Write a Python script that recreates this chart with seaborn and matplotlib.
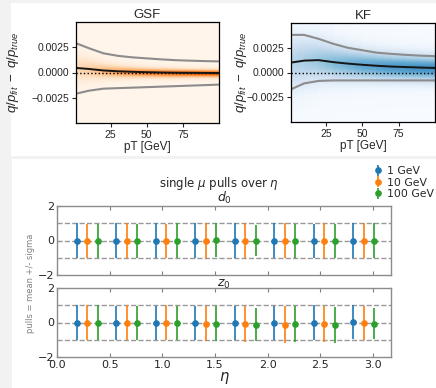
import numpy as np
import matplotlib
matplotlib.use("Agg")
import matplotlib.pyplot as plt
import seaborn as sns
from matplotlib.patches import Rectangle
from matplotlib.ticker import FuncFormatter

# residual bands at these pT values
pt = [1, 10, 20, 30, 40, 50, 60, 70, 80, 90, 100]
gsf_mean = [0.00045, 0.00035, 0.0002, 0.00012, 0.00007, 0.00003, 0.0, -0.00002, -0.00003, -0.00004, -0.00005]
gsf_upper = [0.0029, 0.0024, 0.0019, 0.00165, 0.0015, 0.0014, 0.0013, 0.00122, 0.00117, 0.00113, 0.0011]
gsf_lower = [-0.0021, -0.0018, -0.0016, -0.00155, -0.0015, -0.00145, -0.0014, -0.00135, -0.0013, -0.00125, -0.0012]
gsf_core = [0.0009, 0.0007, 0.0005, 0.0004, 0.00035, 0.0003, 0.0003, 0.00028, 0.00026, 0.00025, 0.00025]

kf_mean = [0.001, 0.0012, 0.00125, 0.00105, 0.0009, 0.00078, 0.00068, 0.0006, 0.00055, 0.0005, 0.00046]
kf_upper = [0.0038, 0.0038, 0.0034, 0.0029, 0.0025, 0.00225, 0.002, 0.00188, 0.00178, 0.0017, 0.00165]
kf_lower = [-0.0017, -0.0011, -0.00085, -0.0008, -0.0008, -0.0008, -0.0008, -0.0008, -0.0008, -0.0008, -0.0008]
kf_core = [0.0018, 0.0016, 0.0014, 0.0012, 0.0011, 0.001, 0.00095, 0.0009, 0.00088, 0.00085, 0.00085]

# pulls per eta bin
eta = [0.1875, 0.5625, 0.9375, 1.3125, 1.6875, 2.0625, 2.4375, 2.8125]
labels = ["1 GeV", "10 GeV", "100 GeV"]
d0_mean = [[0, 0, 0, 0, 0, 0, -0.02, 0],
           [-0.04, 0, -0.02, 0, 0, 0, 0, 0],
           [-0.04, -0.02, 0, 0.04, 0, -0.02, -0.02, 0]]
d0_sigma = [[1, 1, 1, 1, 1, 1, 1, 1],
            [1, 1, 1, 1, 1, 1, 1, 1],
            [0.97, 1, 1, 1, 0.88, 1, 1, 1]]
z0_mean = [[0, -0.02, -0.04, -0.02, -0.02, -0.02, -0.02, 0.04],
           [0, 0, 0, -0.06, -0.1, -0.12, -0.08, -0.02],
           [0, -0.02, -0.02, -0.06, -0.12, -0.1, -0.15, -0.06]]
z0_sigma = [[1, 1, 1, 1, 1, 1, 1.02, 1],
            [1, 1, 1, 1.02, 1.03, 1.05, 1.05, 1],
            [1, 1, 1, 1, 0.97, 1.05, 1.05, 0.92]]

sns.set_style("ticks")
plt.rcParams['font.family'] = ['DejaVu Sans']
plt.rcParams['mathtext.fontset'] = 'dejavusans'
plt.rcParams['mathtext.it'] = 'Liberation Sans:italic'
plt.rcParams['mathtext.rm'] = 'Liberation Sans'
plt.rcParams['mathtext.cal'] = 'Liberation Sans:italic'
plt.rcParams['mathtext.tt'] = 'Liberation Sans'
plt.rcParams['mathtext.bf'] = 'Liberation Sans:bold'
plt.rcParams['mathtext.sf'] = 'Liberation Sans'

W, H = 436, 388
fig = plt.figure(figsize=(W / 100, H / 100), dpi=100)
fig.patch.set_facecolor('#f2f2f2')
fig.add_artist(Rectangle((11 / W, 1 - 156 / H), 1, 153 / H, transform=fig.transFigure,
                         facecolor='white', edgecolor='none', zorder=-5))
fig.add_artist(Rectangle((12 / W, 0), 1, 1 - 159 / H, transform=fig.transFigure,
                         facecolor='white', edgecolor='none', zorder=-5))


def fax(l, t, r, b):
    return fig.add_axes([l / W, 1 - b / H, (r - l) / W, (b - t) / H])


def minus_fmt(v, pos):
    return f"{v:.4f}".replace("-", "\u2212")


def residual_panel(ax, mean, upper, lower, core, cmap, frac, halo, title, label_x):
    ygrid = np.linspace(-0.005, 0.005, 241)[:, None]
    m = np.array(mean)[None, :]
    w = np.array(core)[None, :]
    z = (1 - halo) * np.exp(-0.5 * ((ygrid - m) / w) ** 2) / w \
        + halo * np.exp(-0.5 * ((ygrid - m) / (2.2 * w)) ** 2) / (2.2 * w)
    ax.pcolormesh(pt, ygrid[:, 0], z, shading='gouraud', cmap=cmap,
                  vmin=0, vmax=z.max() / frac, rasterized=True)
    ax.axhline(0, color='black', ls=':', lw=1)
    sns.lineplot(x=pt, y=upper, ax=ax, color='0.55', lw=1.5)
    sns.lineplot(x=pt, y=lower, ax=ax, color='0.55', lw=1.5)
    sns.lineplot(x=pt, y=mean, ax=ax, color='#151515', lw=1.4)
    ax.set_xlim(1, 100)
    ax.set_ylim(-0.005, 0.005)
    ax.set_xticks([25, 50, 75])
    ax.set_yticks([-0.0025, 0, 0.0025])
    ax.yaxis.set_major_formatter(FuncFormatter(minus_fmt))
    for lab in ax.get_xticklabels() + ax.get_yticklabels():
        lab.set_family('Liberation Sans')
    ax.tick_params(labelsize=7.5, length=3, width=0.8, pad=2)
    ax.set_title(title, fontsize=9.5, family='Liberation Sans', pad=3)
    ax.set_xlabel('pT [GeV]', fontsize=8.5, family='Liberation Sans', labelpad=1)
    ax.set_ylabel(r'$q/p_{fit}\ -\ q/p_{true}$', fontsize=9.5, math_fontfamily='custom')
    ax.yaxis.set_label_coords(label_x, 0.5)
    for s in ax.spines.values():
        s.set_linewidth(0.9)
        s.set_color('black')


ax_gsf = fax(76, 22, 219, 123)
residual_panel(ax_gsf, gsf_mean, gsf_upper, gsf_lower, gsf_core,
               sns.color_palette("Oranges", as_cmap=True), 0.68, 0.12, 'GSF', -0.385)
ax_kf = fax(291, 23, 435, 122)
residual_panel(ax_kf, kf_mean, kf_upper, kf_lower, kf_core,
               sns.color_palette("Blues", as_cmap=True), 0.62, 0.12, 'KF', -0.29)

colors = sns.color_palette("tab10", 3)
offsets = [0.0, 0.1, 0.2]

ax_d0 = fax(57, 206, 391, 275)
ax_z0 = fax(57, 288, 391, 357)
handles = []
for ax, means, sigmas, name in [(ax_d0, d0_mean, d0_sigma, '$d_0$'),
                                (ax_z0, z0_mean, z0_sigma, '$z_0$')]:
    for yv in (-1, 0, 1):
        ax.axhline(yv, color='0.6', ls='--', lw=1, zorder=1)
    for k in range(3):
        x = np.array(eta) + offsets[k]
        h = ax.errorbar(x, means[k], yerr=sigmas[k], fmt='o', ms=3.8, color=colors[k],
                        ecolor=colors[k], elinewidth=1.2, capsize=0, zorder=3)
        if ax is ax_d0:
            handles.append(h)
    ax.set_xlim(0, 3.17)
    ax.set_ylim(-2, 2)
    ax.set_yticks([-2, 0, 2])
    ax.set_xticks([0, 0.5, 1.0, 1.5, 2.0, 2.5, 3.0])
    ax.tick_params(direction='in', top=True, right=False, length=3, width=0.8,
                   color='0.5', labelsize=8, pad=2)
    for s in ax.spines.values():
        s.set_color('0.55')
        s.set_linewidth(1)
    ax.set_title(name, fontsize=9, pad=1)

ax_d0.tick_params(labelbottom=False)
ax_z0.set_xlabel(r'$\eta$', fontsize=10.5, labelpad=0)
fig.text(219 / W, 1 - 183 / H, r'single $\mu$ pulls over $\eta$', ha='center', va='center', fontsize=8.5)
fig.text(30 / W, 1 - 283 / H, 'pulls = mean +/- sigma', rotation=90, ha='center', va='center',
         fontsize=6, color='0.5')
fig.legend(handles, labels, loc='upper left', bbox_to_anchor=(374 / W, 1 - 166 / H),
           frameon=False, fontsize=7.8, handlelength=0.8, handletextpad=0.4,
           labelspacing=0.15, borderpad=0, borderaxespad=0)

fig.savefig('out.png', dpi=100, facecolor=fig.get_facecolor())
